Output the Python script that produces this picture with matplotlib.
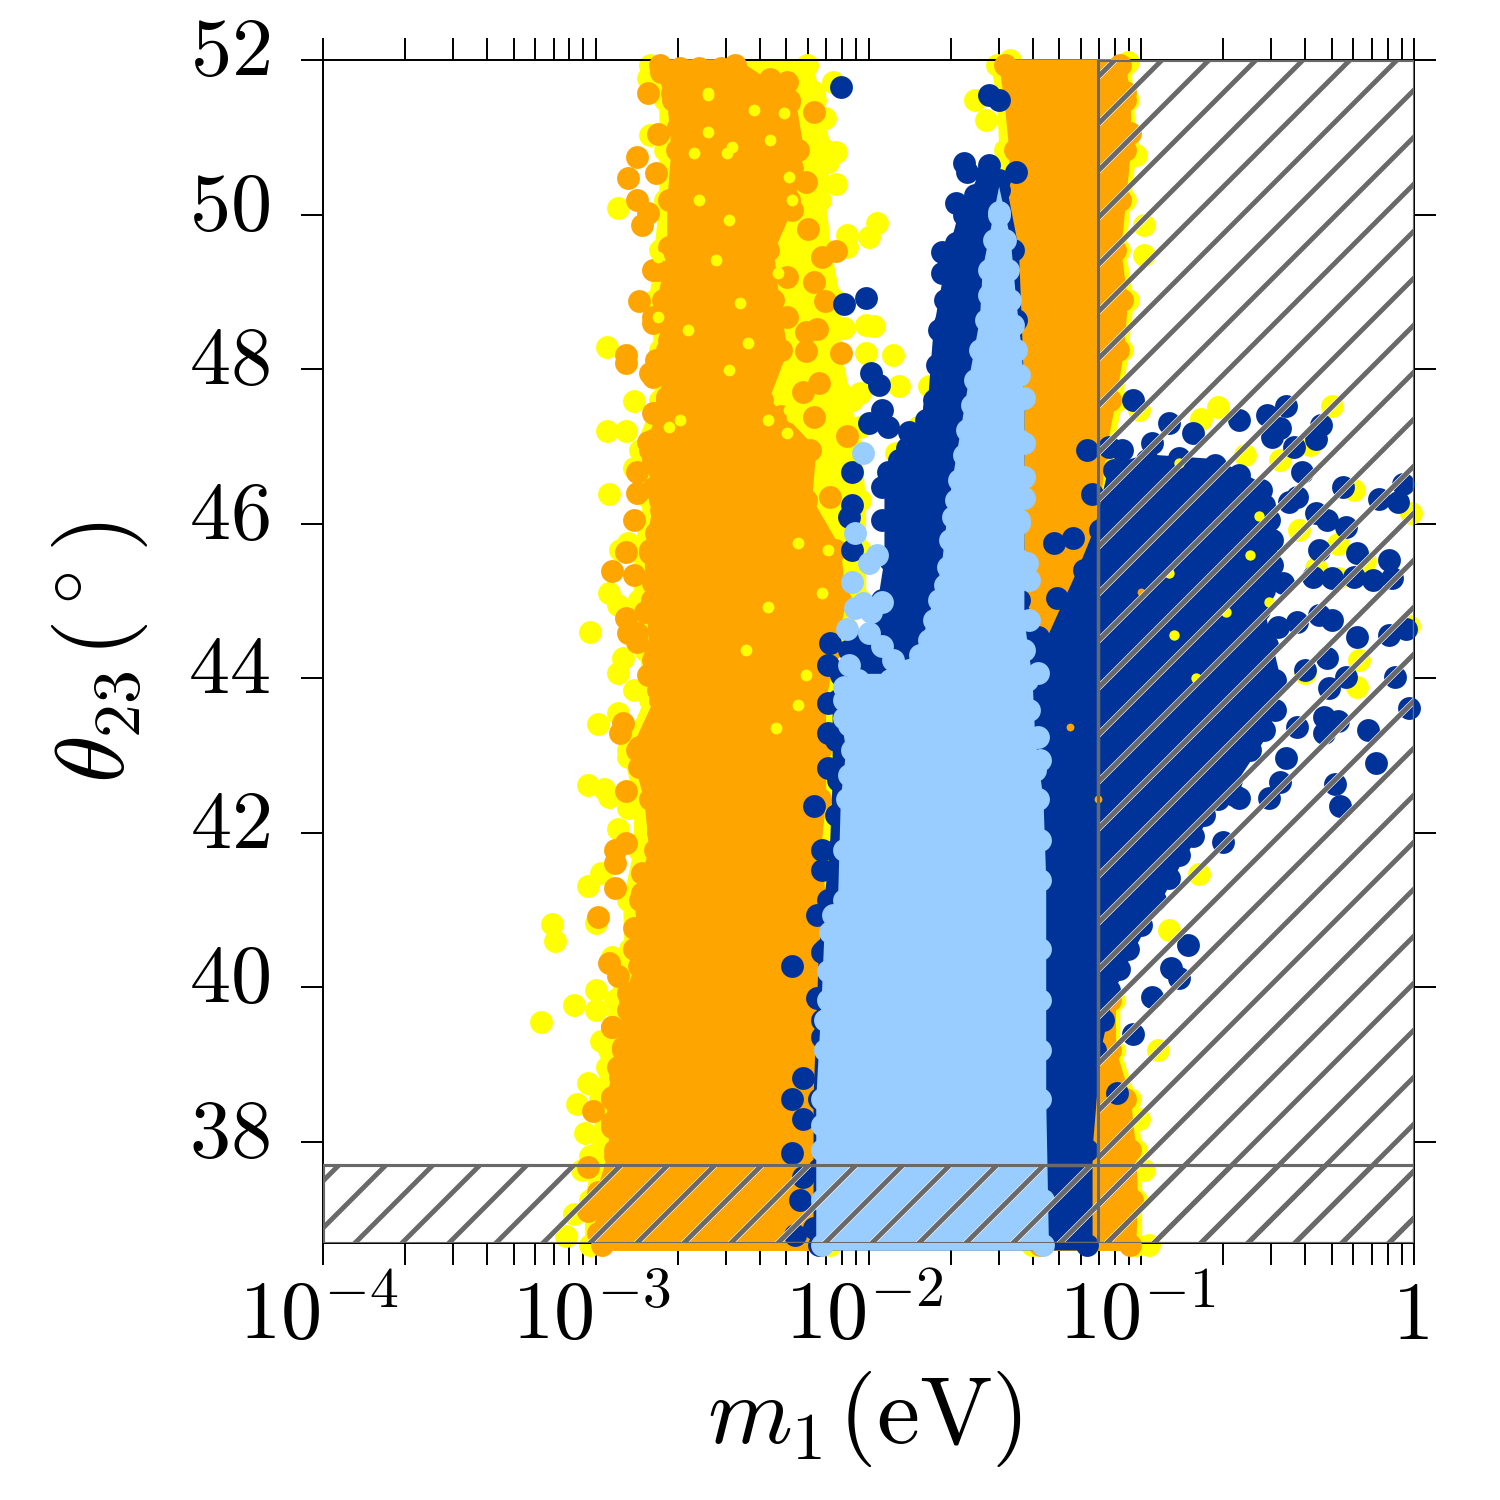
import numpy as np
import matplotlib
matplotlib.use('Agg')
import matplotlib.pyplot as plt
from matplotlib.patches import Rectangle
from matplotlib.ticker import LogLocator, NullFormatter
from matplotlib.transforms import ScaledTranslation

plt.rcParams['mathtext.fontset'] = 'cm'

# values: (log10 m1 [eV], theta23 [deg])
theta_levels = [51.94, 51.48, 50.84, 50.19, 49.54, 48.89, 48.25, 47.60, 46.95, 46.31, 45.66, 45.01, 44.37,
                43.72, 43.07, 42.43, 41.78, 41.13, 40.49, 39.84, 39.19, 38.55, 37.90, 37.25, 36.67]

# edges of the filled-in bands at each theta level
yellow_left = [-2.802, -2.747, -2.747, -2.747, -2.765, -2.784, -2.765, -2.765, -2.839, -2.802, -2.84, -2.84, -2.82,
               -2.80, -2.88, -2.84, -2.84, -2.88, -2.875, -2.93, -2.95, -2.985, -2.985, -3.02, -3.02]
yellow_right = [-2.226, -2.197, -2.160, -2.179, -2.160, -2.124, -2.124, -2.087, -2.050, -2.032, -2.032, -2.032, -2.142,
                -2.142, -2.142, -2.142, -2.142, -2.142, -2.142, -2.142, -2.142, -2.142, -2.142, -2.142, -2.142]
orange_left = [-2.765, -2.718, -2.703, -2.718, -2.718, -2.754, -2.740, -2.740, -2.802, -2.765, -2.802, -2.795, -2.784,
               -2.765, -2.850, -2.802, -2.784, -2.839, -2.820, -2.875, -2.901, -2.941, -2.930, -2.985, -2.978]
orange_right = [-2.49, -2.29, -2.26, -2.29, -2.37, -2.35, -2.32, -2.39, -2.215, -2.23, -2.124, -2.105, -2.142,
                -2.179, -2.179, -2.179, -2.197, -2.179, -2.197, -2.179, -2.179, -2.179, -2.179, -2.179, -2.179]
band2_left = [-1.501, -1.482, -1.464, -1.464, -1.446, -1.427, -1.416, -1.409, -1.409, -1.409, -1.409, -1.409, -1.409,
              -1.409, -1.409, -1.372, -1.372, -1.372, -1.372, -1.372, -1.372, -1.372, -1.372, -1.372, -1.372]
band2_right = [-1.079, -1.061, -1.061, -1.079, -1.097, -1.072, -1.086, -1.116, -1.152, -1.171, -1.189, -1.189, -1.189,
               -1.189, -1.189, -1.189, -1.152, -1.152, -1.152, -1.116, -1.116, -1.061, -1.042, -1.035, -1.042]
band2_yellow_left = [-1.53, -1.51, -1.50, -1.49, -1.47, -1.45, -1.44, -1.43, -1.43, -1.43, -1.43, -1.43, -1.43,
                     -1.43, -1.43, -1.40, -1.40, -1.40, -1.40, -1.40, -1.40, -1.40, -1.40, -1.40, -1.40]
band2_yellow_right = [-1.06, -1.05, -1.04, -1.06, -1.08, -1.05, -1.07, -1.09, -1.13, -1.15, -1.17, -1.17, -1.17,
                      -1.17, -1.17, -1.17, -1.13, -1.13, -1.13, -1.10, -1.10, -1.04, -1.02, -1.02, -1.02]

# outlines of the dense blue regions
dark_outline = [(-2.18, 36.67), (-2.18, 38.55), (-2.16, 40.49), (-2.12, 41.78), (-2.11, 42.68), (-2.11, 43.72),
                (-2.07, 44.37), (-1.96, 44.63), (-1.92, 45.53), (-1.92, 46.57), (-1.83, 47.08), (-1.76, 47.60),
                (-1.74, 48.51), (-1.70, 49.28), (-1.65, 49.99), (-1.57, 50.51), (-1.52, 50.45), (-1.47, 49.54),
                (-1.46, 48.64), (-1.45, 47.60), (-1.45, 45.01), (-1.35, 44.30), (-1.21, 45.40), (-1.15, 45.92),
                (-1.10, 46.69), (-0.98, 46.82), (-0.73, 46.76), (-0.56, 46.44), (-0.53, 46.05), (-0.52, 45.47),
                (-0.57, 44.88), (-0.51, 43.98), (-0.55, 43.33), (-0.67, 42.68), (-0.77, 42.23), (-0.86, 41.71),
                (-0.95, 41.13), (-1.05, 40.49), (-1.12, 39.97), (-1.17, 39.19), (-1.20, 37.90), (-1.20, 36.67)]
light_outline = [(-2.17, 36.67), (-2.17, 37.90), (-2.17, 38.55), (-2.15, 39.84), (-2.14, 40.71), (-2.09, 41.13),
                 (-2.08, 42.43), (-2.06, 43.07), (-2.09, 43.72), (-2.04, 43.98), (-1.92, 43.98), (-1.85, 44.11),
                 (-1.78, 44.50), (-1.74, 45.01), (-1.71, 45.44), (-1.69, 46.09), (-1.67, 46.57), (-1.64, 47.21),
                 (-1.61, 47.86), (-1.57, 48.64), (-1.56, 49.28), (-1.52, 49.99), (-1.50, 49.67), (-1.48, 48.89),
                 (-1.46, 48.25), (-1.45, 47.60), (-1.45, 46.57), (-1.45, 45.53), (-1.45, 44.75), (-1.42, 43.98),
                 (-1.41, 43.20), (-1.38, 42.43), (-1.37, 41.39), (-1.37, 39.84), (-1.37, 38.55), (-1.36, 36.67)]

# single points outside the dense parts
yellow_pts = [(-2.81, 51.77), (-2.80, 51.03), (-2.92, 50.09), (-2.96, 48.29), (-2.86, 47.59), (-2.96, 47.20),
              (-2.89, 47.20), (-2.95, 46.38), (-2.86, 46.72), (-2.13, 51.72), (-2.16, 51.25), (-2.12, 50.81),
              (-2.15, 50.68), (-2.12, 50.40), (-2.20, 51.59), (-2.08, 49.74), (-2.08, 49.58), (-2.00, 49.71),
              (-1.97, 49.89), (-2.09, 48.53), (-2.01, 48.57), (-1.98, 48.56), (-2.01, 48.21), (-1.91, 48.18),
              (-1.89, 47.78), (-1.78, 47.78), (-1.82, 47.25), (-2.10, 47.69), (-2.09, 47.25), (-2.06, 47.60),
              (-2.03, 47.69), (-2.03, 47.25), (-1.90, 46.92), (-2.06, 46.44), (-3.02, 44.60), (-2.95, 45.10),
              (-2.92, 44.95), (-2.90, 44.26), (-2.92, 44.07), (-2.86, 43.85), (-2.92, 43.55), (-2.99, 43.41),
              (-2.88, 42.98), (-3.03, 42.62), (-2.97, 42.56), (-2.95, 42.46), (-2.88, 42.32), (-2.92, 42.05),
              (-2.98, 41.48), (-3.03, 41.31), (-3.00, 40.83), (-3.16, 40.82), (-3.15, 40.60), (-2.88, 45.75),
              (-2.91, 45.66), (-3.08, 39.77), (-3.20, 39.55), (-3.00, 39.97), (-3.00, 39.71), (-2.98, 39.30),
              (-2.96, 38.97), (-3.03, 38.76), (-3.07, 38.49), (-3.04, 38.12), (-3.02, 37.81), (-3.05, 37.63),
              (-3.08, 37.07), (-3.11, 36.78), (-2.99, 37.34), (-2.94, 40.39), (-0.72, 47.51), (-0.78, 47.36),
              (-0.30, 47.52), (-1.01, 47.47), (-0.22, 46.44), (-0.01, 46.14), (-0.28, 45.73), (-0.18, 45.51),
              (-0.02, 44.68), (-0.20, 44.24), (-0.21, 43.89), (-0.40, 44.07), (-0.42, 45.92), (-0.62, 46.89),
              (-0.49, 46.82), (-0.38, 47.02), (-0.36, 45.43), (-0.28, 45.30), (-0.99, 49.87), (-0.99, 49.48),
              (-1.02, 50.77), (-0.94, 39.19), (-0.97, 36.67), (-0.99, 37.64), (-1.01, 38.29), (-1.61, 51.48),
              (-1.57, 51.22), (-0.79, 41.46), (-0.90, 40.74), (-1.48, 52.00), (-1.05, 51.97)]
orange_pts = [(-2.81, 51.57), (-2.85, 50.75), (-2.88, 50.47), (-2.77, 51.04), (-2.85, 50.19), (-2.83, 49.87),
              (-2.79, 49.28), (-2.84, 48.88), (-2.79, 48.60), (-2.89, 48.18), (-2.89, 48.08), (-2.80, 47.95),
              (-2.79, 47.43), (-2.81, 47.06), (-2.85, 46.67), (-2.85, 46.40), (-2.79, 46.46), (-2.28, 50.60),
              (-2.23, 50.42), (-2.20, 51.33), (-2.22, 49.81), (-2.17, 49.45), (-2.12, 49.53), (-2.20, 49.13),
              (-2.16, 48.88), (-2.19, 48.52), (-2.23, 48.48), (-2.23, 48.24), (-2.10, 48.21), (-2.18, 47.82),
              (-2.24, 47.70), (-2.20, 47.38), (-2.32, 47.39), (-2.08, 47.14), (-2.14, 46.35), (-2.28, 50.06),
              (-2.30, 49.19), (-2.30, 48.67), (-2.86, 46.05), (-2.89, 45.63), (-2.94, 45.39), (-2.86, 45.34),
              (-2.89, 44.78), (-2.88, 44.59), (-2.85, 44.47), (-2.81, 44.04), (-2.90, 43.42), (-2.91, 43.29),
              (-2.89, 42.54), (-2.93, 41.78), (-2.93, 41.61), (-2.93, 41.29), (-2.99, 40.91), (-2.86, 40.77),
              (-2.81, 40.52), (-2.89, 41.87), (-2.95, 40.32), (-2.92, 40.14), (-2.94, 39.49), (-3.01, 38.40),
              (-3.03, 37.68), (-3.03, 37.11), (-2.99, 37.35), (-2.98, 36.80), (-2.94, 38.25), (-1.06, 51.59),
              (-1.04, 51.06)]
# points along the lumpy left edge and the top of the orange band
orange_edge = [(-2.76, 46.18), (-2.78, 45.88), (-2.80, 45.62), (-2.79, 45.23), (-2.82, 44.85), (-2.85, 44.59),
               (-2.79, 44.24), (-2.77, 43.85), (-2.76, 43.55), (-2.84, 43.11), (-2.84, 42.85), (-2.79, 42.43),
               (-2.77, 42.00), (-2.83, 41.48), (-2.83, 41.22), (-2.75, 40.78), (-2.86, 40.49), (-2.84, 40.27),
               (-2.88, 39.93), (-2.88, 39.71), (-2.94, 39.49), (-2.90, 39.23), (-2.92, 38.97), (-2.91, 38.84),
               (-2.94, 38.58), (-2.94, 38.19), (-2.93, 37.81), (-2.99, 36.82), (-2.72, 51.57), (-2.70, 51.13),
               (-2.67, 50.84), (-2.78, 50.54), (-2.73, 50.19), (-2.81, 50.02), (-2.73, 49.58), (-2.77, 49.28),
               (-2.70, 49.02), (-2.79, 48.67), (-2.73, 48.38), (-2.78, 48.12), (-2.79, 47.90), (-2.74, 47.64),
               (-2.77, 47.43), (-2.79, 47.08), (-2.79, 46.82), (-2.73, 46.44), (-2.76, 51.84), (-2.69, 51.90),
               (-2.62, 51.90), (-2.54, 51.90), (-2.36, 51.76), (-2.30, 51.71), (-2.47, 51.57), (-2.42, 51.58),
               (-2.29, 51.45)]
dark_pts = [(-2.10, 51.65), (-1.65, 50.67), (-1.64, 50.55), (-1.68, 50.15), (-1.65, 49.74), (-1.73, 49.52),
            (-1.73, 49.24), (-2.09, 48.84), (-2.01, 48.92), (-1.65, 49.24), (-1.71, 48.74), (-1.72, 48.60),
            (-1.71, 48.21), (-1.99, 47.95), (-1.96, 47.80), (-1.73, 47.82), (-1.76, 47.51), (-1.95, 47.47),
            (-2.00, 47.30), (-1.93, 47.25), (-1.85, 47.19), (-1.86, 46.98), (-2.06, 46.67), (-2.06, 46.24),
            (-1.93, 46.67), (-1.95, 46.48), (-1.89, 46.66), (-1.87, 46.48), (-1.82, 46.31), (-1.56, 51.55),
            (-1.52, 51.48), (-1.56, 50.64), (-1.46, 50.55), (-1.57, 50.38), (-1.52, 50.32), (-1.54, 50.12),
            (-2.07, 46.09), (-2.06, 45.66), (-2.14, 44.46), (-2.15, 44.17), (-2.15, 43.68), (-2.15, 43.29),
            (-2.15, 42.84), (-2.20, 42.34), (-2.17, 41.78), (-2.17, 41.52), (-2.19, 40.94), (-2.28, 40.27),
            (-2.17, 40.45), (-2.19, 39.86), (-2.17, 39.35), (-2.24, 38.83), (-2.28, 38.55), (-2.24, 38.29),
            (-2.28, 37.86), (-2.24, 37.55), (-2.25, 37.25), (-2.27, 36.80), (-2.20, 36.89), (-1.03, 47.60),
            (-0.90, 47.30), (-0.81, 47.17), (-0.64, 47.34), (-0.47, 47.52), (-0.54, 47.41), (-0.34, 47.28),
            (-0.36, 47.10), (-0.44, 46.99), (-0.52, 47.12), (-0.49, 47.24), (-0.41, 46.67), (-0.43, 46.35),
            (-0.46, 46.28), (-0.26, 46.48), (-0.13, 46.32), (-0.06, 46.28), (-0.04, 46.51), (-0.32, 46.05),
            (-0.25, 45.96), (-0.35, 45.66), (-0.36, 46.14), (-0.21, 45.62), (-0.09, 45.53), (-0.08, 45.30),
            (-0.15, 45.27), (-0.22, 45.31), (-0.30, 45.30), (-0.37, 45.31), (-0.48, 45.23), (-0.35, 44.82),
            (-0.30, 44.75), (-0.43, 44.73), (-0.50, 44.66), (-0.21, 44.53), (-0.09, 44.56), (-0.03, 44.63),
            (-0.32, 44.26), (-0.40, 44.11), (-0.25, 44.02), (-0.31, 43.87), (-0.07, 44.02), (-0.02, 43.62),
            (-0.33, 43.50), (-0.43, 43.37), (-0.28, 43.44), (-0.33, 43.29), (-0.17, 43.33), (-0.14, 42.90),
            (-0.47, 42.97), (-0.29, 42.63), (-0.53, 42.45), (-0.49, 42.66), (-0.27, 42.34), (-1.20, 46.95),
            (-1.12, 46.99), (-1.07, 46.95), (-0.96, 47.04), (-1.18, 46.38), (-1.32, 45.75), (-1.25, 45.82),
            (-1.31, 45.04), (-1.38, 44.53), (-0.66, 42.49), (-0.70, 41.88), (-0.89, 40.25), (-0.83, 40.55),
            (-0.86, 40.12), (-0.96, 39.88), (-1.03, 39.39), (-1.09, 38.63), (-0.64, 42.45),
            # along the edges of the dense part
            (-0.60, 43.07), (-0.72, 42.43), (-0.81, 41.96), (-0.90, 41.41), (-1.00, 40.81), (-1.08, 40.23),
            (-1.14, 39.58), (-0.86, 46.85), (-0.64, 46.63), (-0.55, 46.24), (-0.52, 45.79), (-0.55, 45.14),
            (-0.54, 44.43), (-0.51, 43.59), (-1.79, 47.34), (-1.75, 48.05), (-1.72, 48.89), (-1.68, 49.63),
            (-1.61, 50.25), (-1.89, 46.82), (-1.95, 46.05), (-1.95, 45.01), (-2.02, 44.50), (-2.10, 44.04),
            (-2.12, 43.20), (-2.12, 42.23), (-2.15, 41.13), (-2.17, 39.58), (-2.18, 37.65)]
light_pts = [(-2.02, 46.92), (-2.05, 45.88), (-1.97, 45.59), (-2.00, 45.49), (-2.06, 45.25), (-2.02, 44.97),
             (-1.95, 44.99), (-2.05, 44.91), (-2.08, 44.63), (-1.99, 44.85), (-2.00, 44.59), (-1.95, 44.41),
             (-2.07, 44.17), (-1.91, 44.24), (-2.09, 43.89), (-2.09, 43.49), (-1.43, 47.63), (-1.43, 47.04),
             (-1.43, 46.60), (-1.43, 46.33), (-1.45, 46.01), (-1.42, 45.49), (-1.41, 45.27), (-1.41, 44.75),
             (-1.38, 44.07), (-1.38, 43.24), (-1.37, 42.94), (-1.52, 50.03),
             # along the edges of the dense part
             (-2.17, 37.25), (-2.17, 38.22), (-2.16, 39.19), (-2.16, 39.58), (-2.15, 40.21), (-2.13, 40.94),
             (-2.09, 41.78), (-2.07, 42.75), (-2.07, 43.40), (-1.36, 37.25), (-1.37, 39.19), (-1.37, 40.49),
             (-1.37, 41.91), (-1.39, 42.81), (-1.41, 43.59), (-1.43, 44.37), (-1.45, 46.05), (-1.45, 47.08),
             (-1.45, 47.92), (-1.47, 48.57), (-1.49, 49.28), (-1.54, 49.67), (-1.56, 48.96), (-1.59, 48.25),
             (-1.62, 47.54), (-1.65, 46.89), (-1.68, 46.31), (-1.70, 45.79), (-1.72, 45.21), (-1.76, 44.75),
             (-1.81, 44.30), (-1.89, 44.04)]

# small uncovered spots inside the dense parts
yellow_gaps = [(-2.37, 44.92), (-2.45, 44.37), (-2.23, 44.04), (-2.26, 43.65), (-2.17, 45.10), (-2.26, 45.75),
               (-2.15, 45.66), (-2.34, 43.36), (-2.51, 49.93), (-2.42, 51.35), (-2.59, 51.55), (-2.50, 50.87),
               (-2.36, 50.96), (-2.64, 50.80), (-2.29, 50.49), (-2.73, 47.25), (-2.37, 47.34), (-2.29, 47.47),
               (-2.30, 47.17), (-2.47, 48.86), (-2.59, 51.57), (-2.31, 51.31), (-2.52, 50.80), (-2.59, 51.07),
               (-2.28, 50.19), (-2.69, 47.34), (-2.28, 47.38), (-2.77, 48.67), (-2.77, 49.45), (-2.51, 47.99),
               (-2.44, 48.34), (-2.33, 49.24), (-2.62, 50.19), (-2.56, 49.41), (-2.66, 48.51)]
yellow_gaps_lobe = [(-0.90, 45.36), (-0.88, 44.56), (-0.69, 44.85), (-0.80, 44.00), (-0.86, 46.79), (-0.53, 44.99),
                    (-0.60, 45.60), (-0.57, 46.10)]
orange_gaps_lobe = [(-1.26, 43.37), (-1.16, 42.43), (-1.00, 45.11)]

x_ticks = [1e-4, 1e-3, 1e-2, 1e-1, 1]
x_labels = [r'$10^{-4}$', r'$10^{-3}$', r'$10^{-2}$', r'$10^{-1}$', r'$1$']
y_ticks = [38, 40, 42, 44, 46, 48, 50, 52]

yellow = '#ffff00'
orange = '#ffa500'
dark_blue = '#003399'
light_blue = '#99ccff'
hatch_grey = '#696969'
dot = 34


def split(pairs):
    a = np.array(pairs)
    return 10 ** a[:, 0], a[:, 1]


def dots(ax, pairs, color, z, size=dot):
    x, y = split(pairs)
    ax.scatter(x, y, s=size, color=color, lw=0, zorder=z, clip_on=False)


def band(ax, left, right, color, z):
    ax.fill_betweenx(theta_levels, 10 ** np.array(left), 10 ** np.array(right), color=color,
                     lw=3, zorder=z, clip_on=False)
    ax.scatter(10 ** np.array(left + right), theta_levels * 2, s=dot, color=color, lw=0, zorder=z, clip_on=False)


def blob(ax, outline, pts, color, z):
    x, y = split(outline)
    ax.fill(x, y, color=color, lw=3, zorder=z, clip_on=False)
    dots(ax, outline, color, z)
    dots(ax, pts, color, z)


def hatched(ax, x0, y0, w, h, color, hatch_lw, z):
    plt.rcParams['hatch.linewidth'] = hatch_lw
    ax.add_patch(Rectangle((x0, y0), w, h, fill=False, hatch='//', edgecolor=color, lw=0.8, zorder=z))


fig = plt.figure(figsize=(1500 / 282, 1500 / 282), dpi=282)
ax = fig.add_axes([323 / 1500, 1 - 1243 / 1500, (1414 - 323) / 1500, (1243 - 60) / 1500])
ax.set_xscale('log')
ax.set_xlim(1e-4, 1)
ax.set_ylim(36.69, 52)

band(ax, yellow_left, yellow_right, yellow, 2)
band(ax, band2_yellow_left, band2_yellow_right, yellow, 2)
dots(ax, yellow_pts, yellow, 2)

band(ax, orange_left, orange_right, orange, 3)
band(ax, band2_left, band2_right, orange, 3)
dots(ax, orange_pts, orange, 3)
dots(ax, orange_edge, orange, 3)
dots(ax, yellow_gaps, yellow, 3.5, size=9)

blob(ax, dark_outline, dark_pts, dark_blue, 4)
dots(ax, yellow_gaps_lobe, yellow, 4.5, size=7)
dots(ax, orange_gaps_lobe, orange, 4.5, size=4)
blob(ax, light_outline, light_pts, light_blue, 5)

# excluded regions, white rim under the grey hatching
hatched(ax, 0.0693, 36.69, 1 - 0.0693, 52 - 36.69, 'white', 1.55, 6)
hatched(ax, 1e-4, 36.69, 1 - 1e-4, 37.7 - 36.69, 'white', 1.55, 6)
hatched(ax, 0.0693, 36.69, 1 - 0.0693, 52 - 36.69, hatch_grey, 1.25, 7)
hatched(ax, 1e-4, 36.69, 1 - 1e-4, 37.7 - 36.69, hatch_grey, 1.25, 7)

ax.set_xticks(x_ticks)
ax.set_xticklabels(x_labels)
ax.set_yticks(y_ticks)
ax.set_yticklabels([f'${t}$' for t in y_ticks])
ax.xaxis.set_minor_locator(LogLocator(base=10, subs=np.arange(2, 10), numticks=20))
ax.xaxis.set_minor_formatter(NullFormatter())
ax.tick_params(which='both', direction='out', length=5.6, width=0.5, top=True, right=True)
ax.tick_params(axis='x', which='major', labelsize=21, pad=3)
ax.tick_params(axis='y', which='major', labelsize=21, pad=8)
for s in ax.spines.values():
    s.set_linewidth(0.5)

for lab in ax.get_xticklabels():
    lab.set_transform(lab.get_transform() + ScaledTranslation(-4 / 282, 0, fig.dpi_scale_trans))
for lab in ax.get_yticklabels():
    lab.set_transform(lab.get_transform() + ScaledTranslation(0, 16 / 282, fig.dpi_scale_trans))

fig.text(864 / 1500, 1 - 1419 / 1500, r'$m_1\hspace{0.08}(\mathrm{eV})$', fontsize=24.7, ha='center', va='center')
fig.text(100 / 1500, 1 - 652 / 1500, r'$\theta_{23}\hspace{0.08}(^\circ)$', fontsize=24.7, ha='center', va='center',
         rotation=90)

fig.savefig('out.png', dpi=282)
